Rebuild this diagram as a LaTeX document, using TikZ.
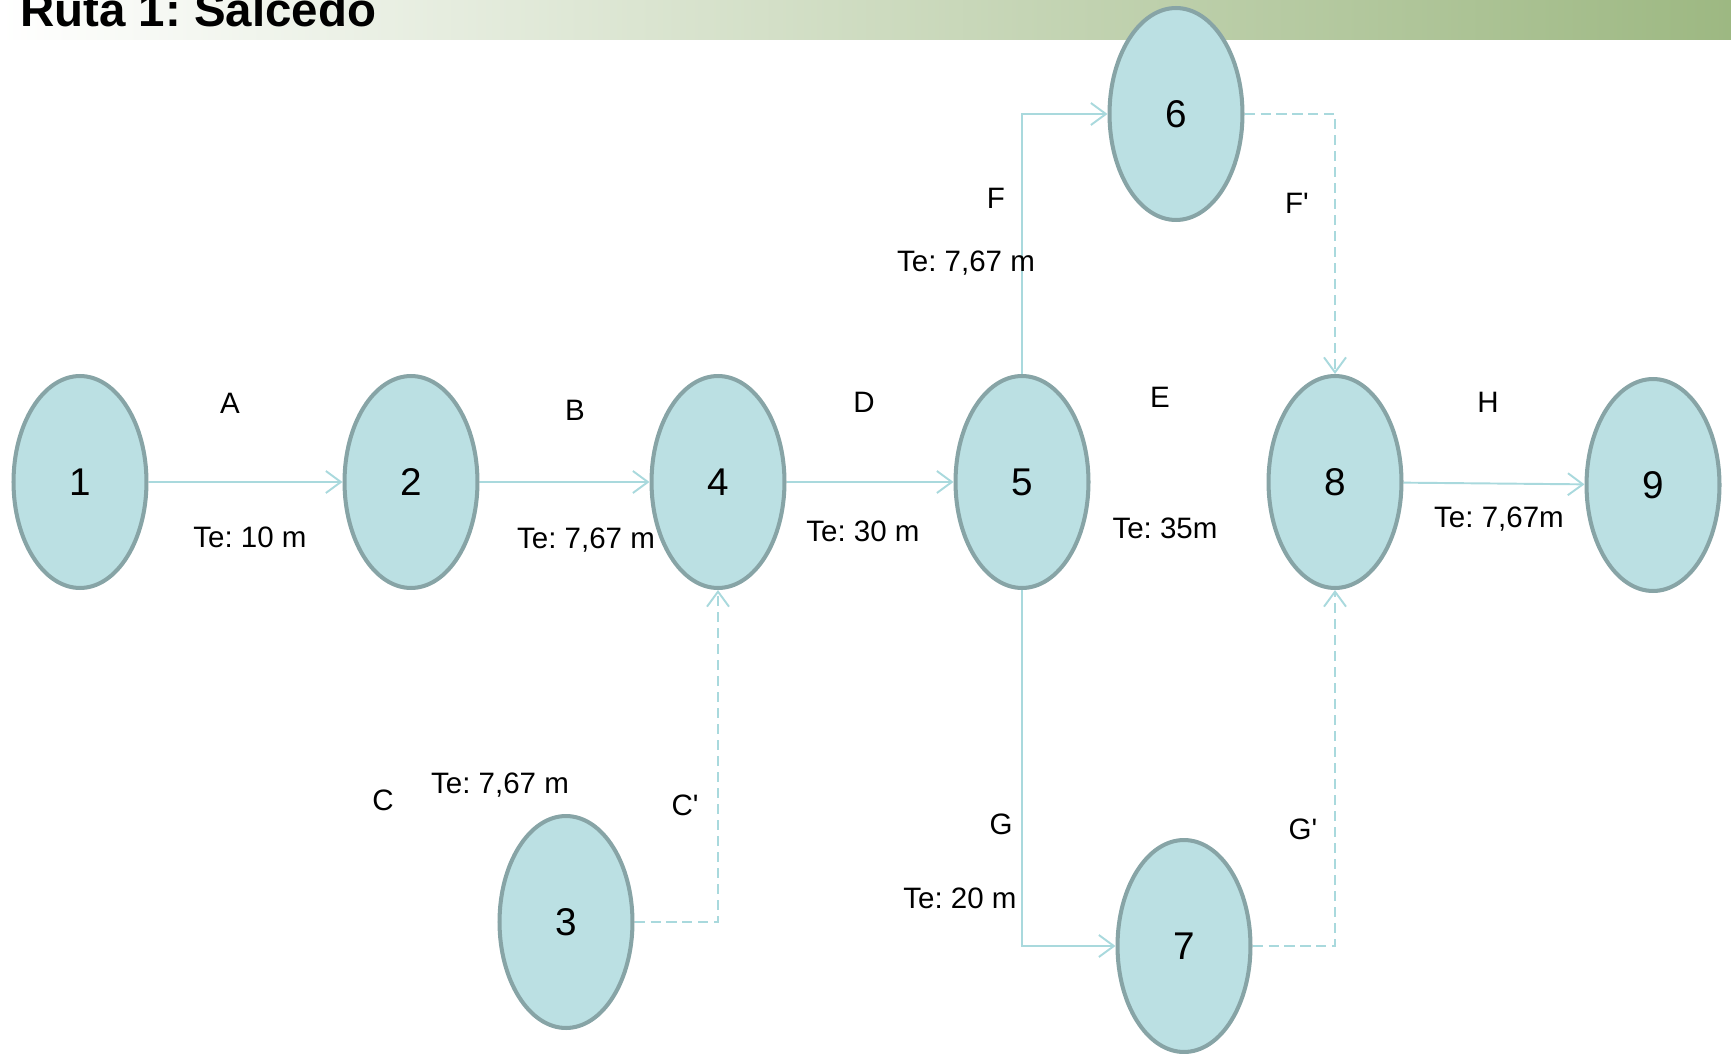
\documentclass[tikz,border=0pt]{standalone}
\usepackage{fontspec}
\setmainfont{Liberation Sans}
\usepackage{tikz}
\usetikzlibrary{arrows.meta,positioning,shapes.geometric}
\frenchspacing

\begin{document}
\begin{tikzpicture}[x=0.02cm,y=-0.02cm,
  event/.style={ellipse,draw=eventedge,fill=eventfill,line width=2.3pt,
    minimum width=2.66cm,minimum height=4.24cm,inner sep=0pt,
    font=\fontsize{22}{22}\selectfont},
  act/.style={font=\fontsize{16.8}{16.8}\selectfont},
  link/.style={draw=linkcol,line width=1.1pt,
    -{Straight Barb[length=0.3cm,width=0.44cm,line width=1.1pt]}},
  dummy/.style={link,line width=1.3pt,dash pattern=on 5.7pt off 3.4pt}]
\definecolor{eventfill}{HTML}{BBE0E3}
\definecolor{eventedge}{HTML}{87A4A6}
\definecolor{linkcol}{HTML}{A9D9DD}
\definecolor{bannergreen}{HTML}{9DB882}
\useasboundingbox (0,0) rectangle (1731,1054);

% banner
\shade[left color=white,right color=bannergreen,shading angle=90] (0,0) rectangle (1731,40);
\node[anchor=base west,inner sep=0pt,font=\bfseries\fontsize{27}{27}\selectfont] (title) at (20,27) {Ruta 1: Salcedo};

% events
\node[event] (n1) at (80,482) {1};
\node[event] (n2) at (411,482) {2};
\node[event] (n3) at (566,922) {3};
\node[event] (n4) at (718,482) {4};
\node[event] (n5) at (1022,482) {5};
\node[event] (n6) at (1176,114) {6};
\node[event] (n7) at (1184,946) {7};
\node[event] (n8) at (1335,482) {8};
\node[event] (n9) at (1653,485) {9};

% activities
\draw[link] (n1) -- (n2);
\draw[link] (n2) -- (n4);
\draw[link] (n4) -- (n5);
\draw[link] (n8) -- (n9);
\draw[link] (n5.north) |- (n6.west);
\draw[link] (n5.south) |- (n7.west);
\draw[dummy] (n6.east) -| (n8.north);
\draw[dummy] (n7.east) -| (n8.south);
\draw[dummy] (n3.east) -| (n4.south);

% labels
\node[act] (lA) at (230,403) {A};
\node[act] (tA) at (250,537) {Te: 10 m};
\node[act] (lB) at (575,410) {B};
\node[act] (tB) at (586,540) {Te: 7,67 m};
\node[act] (lC) at (383,800) {C};
\node[act] (tC) at (500,785) {Te: 7,67 m};
\node[act] (lCp) at (685,805) {C\textquotesingle};
\node[act] (lD) at (864,402) {D};
\node[act] (tD) at (863,531) {Te: 30 m};
\node[act] (lE) at (1160,397) {E};
\node[act] (tE) at (1165,528) {Te: 35m};
\node[act] (lF) at (996,198) {F};
\node[act] (tF) at (966,263) {Te: 7,67 m};
\node[act] (lFp) at (1297,203) {F\textquotesingle};
\node[act] (lG) at (1001,824) {G};
\node[act] (tG) at (960,898) {Te: 20 m};
\node[act] (lGp) at (1303,829) {G\textquotesingle};
\node[act] (lH) at (1488,402) {H};
\node[act] (tH) at (1499,519) {Te: 7,67m};
\end{tikzpicture}
\end{document}
